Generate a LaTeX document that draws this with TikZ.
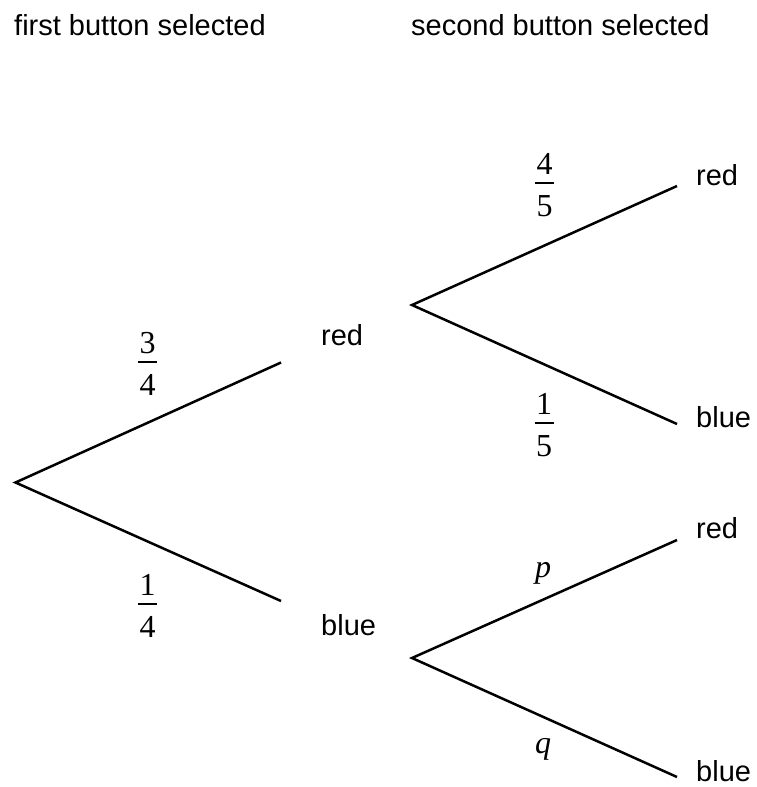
\documentclass[tikz,border=0pt]{standalone}
\usepackage{fontspec}
\setmainfont{Liberation Serif}
\newfontfamily\labelfont{Liberation Sans}
\tikzset{
  branch/.style={line width=2.5pt, line join=miter},
  lab/.style={font=\labelfont\fontsize{29}{34}\selectfont, anchor=base west, inner sep=0pt},
  numtext/.style={font=\fontsize{32}{38}\selectfont, anchor=base, inner sep=0pt},
  vartext/.style={font=\itshape\fontsize{32}{38}\selectfont, anchor=base, inner sep=0pt},
  fbar/.style={line width=1.3pt}
}
% #1 name, #2 x, #3 y of bar, #4 numerator, #5 denominator
\newcommand\fracnode[5]{%
  \node[numtext] (#1n) at (#2,#3-9) {#4};
  \node[numtext] (#1d) at (#2,#3+33) {#5};
  \draw[fbar] (#2-9.5,#3) -- (#2+9.5,#3);
}
\begin{document}
\begin{tikzpicture}[x=1pt,y=-1pt]
  \useasboundingbox (0,0) rectangle (756,787);

  % headings
  \node[lab] (h1) at (14,35.7) {first button selected};
  \node[lab] (h2) at (411,35.7) {second button selected};

  % branch points and ends
  \coordinate (r0) at (15.5,482.5);
  \coordinate (e1u) at (281,362.5);
  \coordinate (e1d) at (281,601);
  \coordinate (r1) at (412,305);
  \coordinate (e2a) at (677,186);
  \coordinate (e2b) at (677,424);
  \coordinate (r2) at (412,658);
  \coordinate (e2c) at (677,540);
  \coordinate (e2d) at (677,777);

  \draw[branch] (e1u) -- (r0) -- (e1d);
  \draw[branch] (e2a) -- (r1) -- (e2b);
  \draw[branch] (e2c) -- (r2) -- (e2d);

  % outcome labels
  \node[lab] (l1r) at (321,345) {red};
  \node[lab] (l1b) at (321,635) {blue};
  \node[lab] (l2a) at (696,185) {red};
  \node[lab] (l2b) at (696,427) {blue};
  \node[lab] (l2c) at (696,538) {red};
  \node[lab] (l2d) at (696,781) {blue};

  % probabilities
  \fracnode{f34}{147.5}{362}{3}{4}
  \fracnode{f14}{147.5}{604}{1}{4}
  \fracnode{f45}{544.5}{183}{4}{5}
  \fracnode{f15}{544}{423}{1}{5}
  \node[vartext] (p) at (543,577) {p};
  \node[vartext] (q) at (543,753) {q};
\end{tikzpicture}
\end{document}
